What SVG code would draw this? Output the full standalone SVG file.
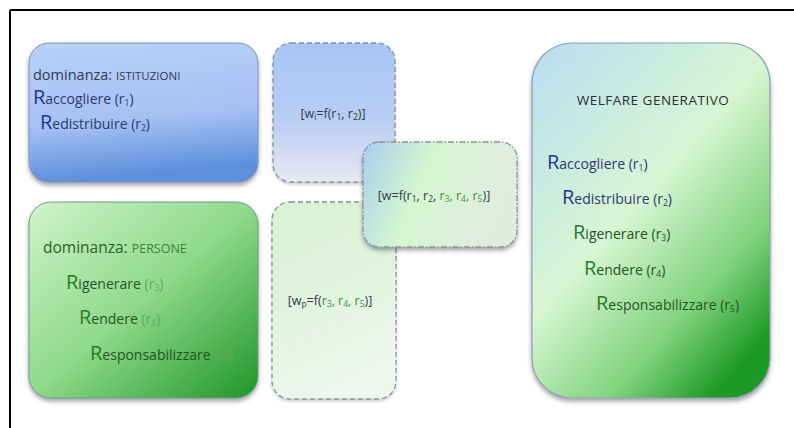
<svg xmlns="http://www.w3.org/2000/svg" width="794" height="428" viewBox="0 0 794 428">
<defs>
<style>
text{font-family:"Open Sans","DejaVu Sans",sans-serif;}
.t{font-size:14px;}
.big{font-size:20px;}
.f{font-size:12.5px;fill:#2f3844;}
.g{fill:#3f923f;}
.blue{fill:#25368f;}
.bluet{fill:#2e3770;}
.gr{fill:#2a7a2a;}
.grt{fill:#245424;}
.grs{fill:#5fa85f;}
.dash{stroke:#8b9199;stroke-width:1.3;stroke-dasharray:5 3;}
.sub{font-size:8.5px;baseline-shift:-2px;}
</style>
<filter id="sh" x="-10%" y="-10%" width="120%" height="125%">
<feDropShadow dx="0" dy="3" stdDeviation="2.2" flood-color="#334" flood-opacity="0.45"/>
</filter>
<filter id="shl" x="-10%" y="-10%" width="120%" height="125%">
<feDropShadow dx="0" dy="2" stdDeviation="1.8" flood-color="#556" flood-opacity="0.3"/>
</filter>
<linearGradient id="gBlue" x1="0" y1="0" x2="0.15" y2="1">
<stop offset="0" stop-color="#b9d1fa"/>
<stop offset="0.6" stop-color="#a5c1f3"/>
<stop offset="1" stop-color="#5d8fdc"/>
</linearGradient>
<linearGradient id="gGreen" x1="0" y1="0" x2="1" y2="1">
<stop offset="0" stop-color="#d0f4cb"/>
<stop offset="0.5" stop-color="#8ed98a"/>
<stop offset="1" stop-color="#1f9528"/>
</linearGradient>
<linearGradient id="gWi" x1="0" y1="0" x2="0" y2="1">
<stop offset="0" stop-color="#a9c5f6"/>
<stop offset="0.55" stop-color="#b8cdf4"/>
<stop offset="1" stop-color="#e8e9f2"/>
</linearGradient>
<linearGradient id="gWp" x1="0" y1="0" x2="0.3" y2="1">
<stop offset="0" stop-color="#d7f2d3"/>
<stop offset="0.6" stop-color="#e2f4df"/>
<stop offset="1" stop-color="#eef6ee"/>
</linearGradient>
<linearGradient id="gW" x1="0" y1="0" x2="1" y2="0.3">
<stop offset="0" stop-color="#aacdf0"/>
<stop offset="0.45" stop-color="#d4f6cf"/>
<stop offset="1" stop-color="#e1ecdf"/>
</linearGradient>
<linearGradient id="gWelf" x1="0" y1="0" x2="0.75" y2="1">
<stop offset="0" stop-color="#b9dcf1"/>
<stop offset="0.5" stop-color="#d8f6d4"/>
<stop offset="0.8" stop-color="#7fd27c"/>
<stop offset="1" stop-color="#1f9a26"/>
</linearGradient>
</defs>
<rect width="794" height="428" fill="#ffffff"/>
<g id="frame" stroke="#000" stroke-width="2">
<line x1="10" y1="10" x2="794" y2="10"/>
<line x1="10" y1="10" x2="10" y2="428"/>
</g>
<g id="connectors"></g>

<g id="istituzioni">
<rect x="29" y="43" width="229" height="139" rx="20" fill="url(#gBlue)" stroke="#7c93b9" stroke-width="1" filter="url(#sh)"/>
<text x="33" y="80" style="font-size:14.5px" fill="#333a50">dominanza: <tspan style="font-size:11.5px">ISTITUZIONI</tspan></text>
<text x="33" y="104" class="t bluet"><tspan class="big blue">R</tspan>accogliere (r<tspan class="sub">1</tspan>)</text>
<text x="40" y="129" class="t bluet"><tspan class="big blue">R</tspan>edistribuire (r<tspan class="sub">2</tspan>)</text>
</g>

<g id="persone">
<rect x="29" y="202" width="229" height="196" rx="22" fill="url(#gGreen)" stroke="#6f9d86" stroke-width="1" filter="url(#sh)"/>
<text x="43" y="253" style="font-size:15.5px" fill="#2a622b">dominanza: <tspan style="font-size:12.5px" fill="#3a873b">PERSONE</tspan></text>
<text x="66" y="289" class="t grt"><tspan class="big gr">R</tspan>igenerare <tspan class="grs">(r<tspan class="sub">3</tspan>)</tspan></text>
<text x="79" y="324" class="t grt"><tspan class="big gr">R</tspan>endere <tspan class="grs">(r<tspan class="sub">4</tspan>)</tspan></text>
<text x="90" y="360" class="t grt"><tspan class="big gr">R</tspan>esponsabilizzare <tspan class="grs">(r<tspan class="sub">5</tspan>)</tspan></text>
</g>

<g id="wi">
<rect x="273" y="43" width="122" height="139" rx="18" fill="url(#gWi)" class="dash" filter="url(#shl)"/>
<text x="333" y="118" text-anchor="middle" class="f">[w<tspan class="sub">i</tspan>=f(r<tspan class="sub">1</tspan>, r<tspan class="sub">2</tspan>)]</text>
</g>

<g id="wp">
<rect x="272" y="202" width="124" height="197" rx="18" fill="url(#gWp)" class="dash" filter="url(#shl)"/>
<text x="330" y="305" text-anchor="middle" class="f">[w<tspan class="sub">p</tspan>=f(<tspan class="g">r<tspan class="sub">3</tspan>, r<tspan class="sub">4</tspan>, r<tspan class="sub">5</tspan></tspan>)]</text>
</g>

<g id="w">
<rect x="363" y="142" width="154" height="105" rx="16" fill="url(#gW)" stroke="#8b9199" stroke-width="1.3" stroke-dasharray="6 2 1.5 2" filter="url(#sh)"/>
<text x="434" y="200" text-anchor="middle" class="f">[w=f(r<tspan class="sub">1</tspan>, r<tspan class="sub">2</tspan>, <tspan class="g">r<tspan class="sub">3</tspan>, r<tspan class="sub">4</tspan>, r<tspan class="sub">5</tspan></tspan>)]</text>
</g>

<g id="welfare">
<rect x="532" y="43" width="238" height="355" rx="40" fill="url(#gWelf)" stroke="#8ea0b4" stroke-width="1.2" filter="url(#sh)"/>
<text x="653" y="105" text-anchor="middle" style="font-size:13.5px;letter-spacing:0.5px" fill="#2a2d33">WELFARE GENERATIVO</text>
<text x="547" y="169" class="t bluet"><tspan class="big blue">R</tspan>accogliere (r<tspan class="sub">1</tspan>)</text>
<text x="562" y="204" class="t bluet"><tspan class="big blue">R</tspan>edistribuire (r<tspan class="sub">2</tspan>)</text>
<text x="573" y="239" class="t grt"><tspan class="big gr">R</tspan>igenerare (r<tspan class="sub">3</tspan>)</text>
<text x="584" y="275" class="t grt"><tspan class="big gr">R</tspan>endere (r<tspan class="sub">4</tspan>)</text>
<text x="596" y="310" class="t grt"><tspan class="big gr">R</tspan>esponsabilizzare (r<tspan class="sub">5</tspan>)</text>
</g>
</svg>
